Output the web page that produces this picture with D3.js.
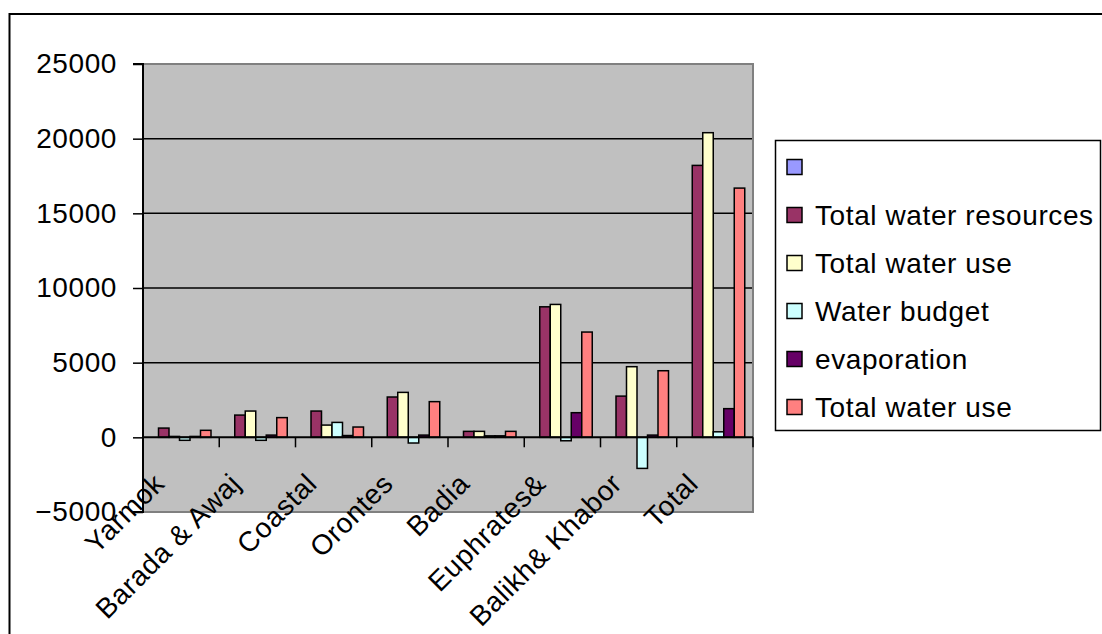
<!DOCTYPE html>
<html>
<head>
<meta charset="utf-8">
<script src="https://cdn.jsdelivr.net/npm/d3@7"></script>
<style>
  html, body { margin: 0; padding: 0; background: #fff; }
  svg { display: block; font-family: "Liberation Sans", Arial, sans-serif; }
</style>
</head>
<body>
<svg id="chart" width="1102" height="634"></svg>
<script>
// Water balance by basin (million m³)
const categories = ["Yarmok", "Barada & Awaj", "Coastal", "Orontes", "Badia", "Euphrates&", "Balikh& Khabor", "Total"];
const seriesNames = ["", "Total water resources", "Total water use", "Water budget", "evaporation", "Total water use"];
const seriesColors = ["#9999FF", "#993366", "#FFFFCC", "#CCFFFF", "#660066", "#FF8080"];

const blankSeries      = [null, null, null, null, null, null, null, null];
const waterResources   = [620, 1490, 1760, 2700, 400, 8740, 2760, 18210];
const waterUse         = [60, 1760, 820, 3010, 400, 8900, 4730, 20400];
const waterBudget      = [-200, -200, 1000, -380, 100, -230, -2080, 370];
const evaporation      = [60, 150, 120, 150, 100, 1650, 150, 1920];
const waterUseNet      = [470, 1320, 690, 2390, 400, 7050, 4460, 16690];

const yTicks = [-5000, 0, 5000, 10000, 15000, 20000, 25000];

const seriesValues = [blankSeries, waterResources, waterUse, waterBudget, evaporation, waterUseNet];

const FONT_SIZE = 28;
const LETTER_SPACING = 0.6;

const svg = d3.select("#chart");
const plot = { left: 143, right: 753, top: 64, bottom: 512 };

// Outer frame (extends past the window on the right and bottom)
svg.append("rect")
  .attr("x", 9.5).attr("y", 14)
  .attr("width", 1200).attr("height", 700)
  .attr("fill", "#fff").attr("stroke", "#000").attr("stroke-width", 2);

const y = d3.scaleLinear().domain([-5000, 25000]).range([plot.bottom, plot.top]);
const x0 = d3.scaleBand().domain(categories).range([plot.left, plot.right]).padding(0);
const seriesIdx = d3.range(seriesNames.length);
const x1 = d3.scaleBand().domain(seriesIdx).range([5, 5 + 63]).padding(0);

// Plot area background
svg.append("rect")
  .attr("x", plot.left).attr("y", plot.top)
  .attr("width", plot.right - plot.left).attr("height", plot.bottom - plot.top)
  .attr("fill", "#C0C0C0");

// Gridlines
svg.append("g")
  .selectAll("line")
  .data(yTicks.filter(v => v > 0 && v < 25000))
  .join("line")
  .attr("x1", plot.left).attr("x2", plot.right)
  .attr("y1", d => y(d)).attr("y2", d => y(d))
  .attr("stroke", "#000").attr("stroke-width", 1.5);

// Plot area border (top, right, bottom)
svg.append("path")
  .attr("d", `M${plot.left},${plot.top}H${plot.right}V${plot.bottom}H${plot.left}`)
  .attr("fill", "none").attr("stroke", "#808080").attr("stroke-width", 2);

// Bars
const barData = [];
categories.forEach((c, ci) => {
  seriesValues.forEach((vals, si) => {
    const v = vals[ci];
    if (v !== null && v !== undefined) barData.push({ c, si, v });
  });
});
svg.append("g")
  .selectAll("rect")
  .data(barData)
  .join("rect")
  .attr("x", d => x0(d.c) + x1(d.si))
  .attr("width", x1.bandwidth())
  .attr("y", d => Math.min(y(d.v), y(0)))
  .attr("height", d => Math.abs(y(d.v) - y(0)))
  .attr("fill", d => seriesColors[d.si])
  .attr("stroke", "#000").attr("stroke-width", 1.5);

// Value axis
const yAxis = svg.append("g")
  .attr("transform", `translate(${plot.left},0)`)
  .call(d3.axisLeft(y).tickValues(yTicks).tickSize(10).tickPadding(16).tickFormat(d3.format("d")));
yAxis.select(".domain").attr("stroke", "#000").attr("stroke-width", 2).attr("d", `M-10,${plot.top}H0V${plot.bottom}H-10`);
yAxis.selectAll(".tick line").attr("stroke", "#000").attr("stroke-width", 1.5);
yAxis.selectAll(".tick text")
  .attr("font-size", FONT_SIZE).attr("fill", "#000")
  .attr("letter-spacing", LETTER_SPACING)
  .attr("font-family", "Liberation Sans, Arial, sans-serif");

// Category axis along zero
const zeroY = y(0);
const catAxis = svg.append("g");
catAxis.append("line")
  .attr("x1", plot.left).attr("x2", plot.right)
  .attr("y1", zeroY).attr("y2", zeroY)
  .attr("stroke", "#000").attr("stroke-width", 2);
const bounds = categories.map(c => x0(c)).concat([plot.right]);
catAxis.selectAll("line.tick")
  .data(bounds)
  .join("line")
  .attr("class", "tick")
  .attr("x1", d => d).attr("x2", d => d)
  .attr("y1", zeroY).attr("y2", zeroY + 10)
  .attr("stroke", "#000").attr("stroke-width", 1.5);
catAxis.selectAll("text")
  .data(categories)
  .join("text")
  .attr("transform", d => `translate(${x0(d) + x0.bandwidth() / 2 - 15},${zeroY + 48}) rotate(-45)`)
  .attr("text-anchor", "end")
  .attr("font-size", FONT_SIZE)
  .attr("letter-spacing", LETTER_SPACING)
  .attr("fill", "#000")
  .text(d => d);

// Legend
const legend = svg.append("g");
legend.append("rect")
  .attr("x", 775.5).attr("y", 140.5)
  .attr("width", 325).attr("height", 290)
  .attr("fill", "#fff").attr("stroke", "#000").attr("stroke-width", 1.5);
const items = legend.selectAll("g.item")
  .data(seriesIdx)
  .join("g")
  .attr("class", "item")
  .attr("transform", i => `translate(787,${167 + i * 48})`);
items.append("rect")
  .attr("x", 0).attr("y", -7.5)
  .attr("width", 15).attr("height", 15)
  .attr("fill", i => seriesColors[i])
  .attr("stroke", "#000").attr("stroke-width", 1.5);
items.append("text")
  .attr("x", 28).attr("y", 0)
  .attr("dy", "0.35em")
  .attr("font-size", FONT_SIZE)
  .attr("letter-spacing", LETTER_SPACING)
  .attr("fill", "#000")
  .text(i => seriesNames[i]);
</script>
</body>
</html>
